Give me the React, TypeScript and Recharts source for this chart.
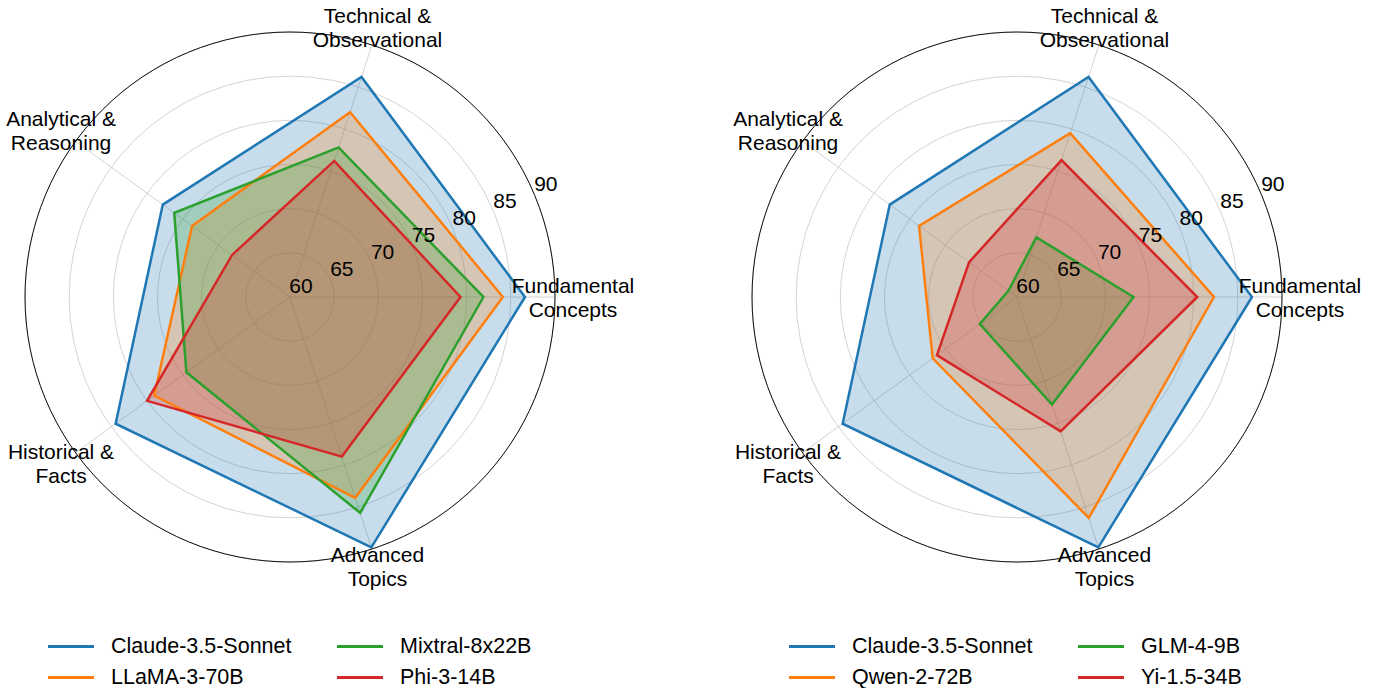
import { RadarChart, Radar, PolarGrid, PolarAngleAxis, PolarRadiusAxis } from 'recharts'

const categories = [
  'Fundamental\nConcepts',
  'Technical &\nObservational',
  'Analytical &\nReasoning',
  'Historical &\nFacts',
  'Advanced\nTopics',
]
const radiusTicks = [60, 65, 70, 75, 80, 85, 90]

// scores per category, same order as categories
const claude = [86.6, 86.2, 77.8, 84.4, 89.8]
const llama = [84.1, 82.0, 73.7, 79.0, 83.9]
const mixtral = [81.9, 77.8, 76.2, 74.5, 85.7]
const phi = [79.3, 76.2, 68.1, 80.0, 79.0]
const qwen = [82.3, 79.5, 73.7, 71.8, 86.3]
const glm = [73.2, 67.1, 61.2, 65.2, 72.8]
const yi = [80.4, 76.3, 66.7, 71.2, 76.0]

// the chart runs clockwise from 3 o'clock, so walk the categories backwards
// to get Fundamental -> Technical -> ... counter-clockwise like the original
const drawOrder = [0, 4, 3, 2, 1]

const BLUE = '#1f77b4'
const ORANGE = '#ff7f0e'
const GREEN = '#2ca02c'
const RED = '#d62728'
const FONT = '"Liberation Sans", Arial, Helvetica, sans-serif'

interface Series {
  key: string
  name: string
  values: number[]
  color: string
}

const leftSeries: Series[] = [
  { key: 'claude', name: 'Claude-3.5-Sonnet', values: claude, color: BLUE },
  { key: 'llama', name: 'LLaMA-3-70B', values: llama, color: ORANGE },
  { key: 'mixtral', name: 'Mixtral-8x22B', values: mixtral, color: GREEN },
  { key: 'phi', name: 'Phi-3-14B', values: phi, color: RED },
]
const rightSeries: Series[] = [
  { key: 'claude', name: 'Claude-3.5-Sonnet', values: claude, color: BLUE },
  { key: 'qwen', name: 'Qwen-2-72B', values: qwen, color: ORANGE },
  { key: 'glm', name: 'GLM-4-9B', values: glm, color: GREEN },
  { key: 'yi', name: 'Yi-1.5-34B', values: yi, color: RED },
]

function AngleTick(props: any) {
  const { x, y, payload } = props
  const lines = String(payload.value).split('\n')
  return (
    <text x={x} y={y} textAnchor="middle" fontSize={21} fontFamily={FONT} fill="#000">
      <tspan x={x} y={y - 4.5}>{lines[0]}</tspan>
      <tspan x={x} y={y + 19.5}>{lines[1]}</tspan>
    </text>
  )
}

function RadiusTick(props: any) {
  const { x, y, payload } = props
  return (
    <text x={x + 11} y={y - 12} textAnchor="middle" dominantBaseline="central" fontSize={21} fontFamily={FONT} fill="#000">
      {payload.value}
    </text>
  )
}

function Panel({ series, left, cx, legend }: { series: Series[]; left: number; cx: number; legend: number[] }) {
  const data = drawOrder.map(i => {
    const row: Record<string, string | number> = { axis: categories[i] }
    series.forEach(s => { row[s.key] = s.values[i] })
    return row
  })

  return (
    <div style={{ position: 'absolute', left, top: 0, width: 686, height: 688 }}>
      <RadarChart
        width={686}
        height={600}
        data={data}
        cx={cx}
        cy={297}
        outerRadius={265}
        startAngle={0}
        endAngle={-360}
        margin={{ top: 0, right: 0, bottom: 0, left: 0 }}
      >
        {series.map(s => (
          <Radar
            key={`fill-${s.key}`}
            dataKey={s.key}
            stroke="none"
            fill={s.color}
            fillOpacity={0.25}
            isAnimationActive={false}
            legendType="none"
          />
        ))}
        <PolarGrid gridType="circle" stroke="#c8c8c8" strokeWidth={0.8} />
        <PolarAngleAxis
          dataKey="axis"
          tick={<AngleTick />}
          tickLine={false}
          tickSize={18}
          axisLineType="circle"
          axisLine={{ stroke: '#111', strokeWidth: 1 }}
        />
        <PolarRadiusAxis
          angle={22.5}
          domain={[60, 90]}
          ticks={radiusTicks}
          tick={<RadiusTick />}
          axisLine={false}
          type="number"
        />
        {series.map(s => (
          <Radar
            key={`line-${s.key}`}
            name={s.name}
            dataKey={s.key}
            stroke={s.color}
            strokeWidth={2.5}
            fill="none"
            fillOpacity={0}
            isAnimationActive={false}
          />
        ))}
      </RadarChart>

      {series.map((s, i) => {
        const col = Math.floor(i / 2)
        const row = i % 2
        const lx = legend[col] - left
        const ly = 646 + row * 31
        return (
          <div key={s.key}>
            <div style={{ position: 'absolute', left: lx, top: ly - 1.5, width: 46, height: 3, background: s.color }} />
            <div
              style={{
                position: 'absolute',
                left: lx + 63,
                top: ly - 13,
                height: 26,
                lineHeight: '26px',
                fontSize: 21.5,
                fontFamily: FONT,
                color: '#000',
                whiteSpace: 'nowrap',
              }}
            >
              {s.name}
            </div>
          </div>
        )
      })}
    </div>
  )
}

export default function App() {
  return (
    <div style={{ position: 'fixed', left: 0, top: 0, width: 1373, height: 688, background: '#fff', overflow: 'hidden' }}>
      <Panel series={leftSeries} left={0} cx={290} legend={[48, 337]} />
      <Panel series={rightSeries} left={686} cx={1017 - 686} legend={[789, 1078]} />
    </div>
  )
}
